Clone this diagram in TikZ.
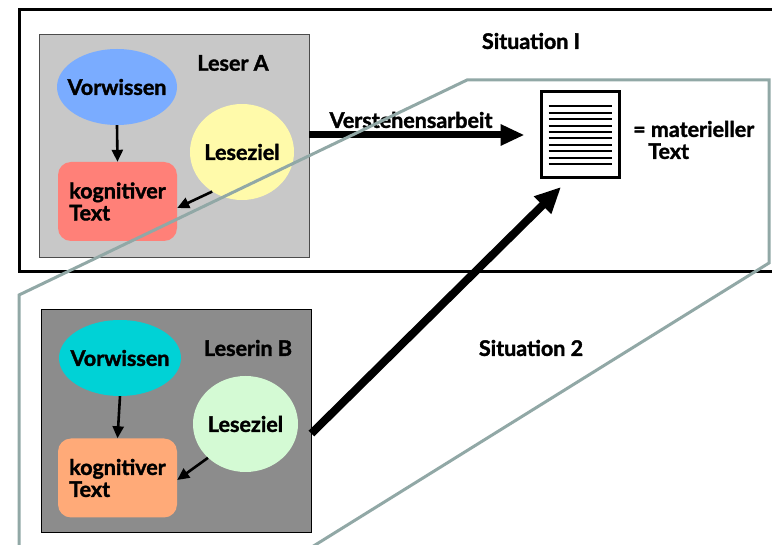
\documentclass[tikz,border=0pt]{standalone}
\usepackage{fontspec}
\setmainfont{Lato}[BoldFeatures={FakeBold=1.6}]
\usetikzlibrary{shapes.geometric,arrows.meta,calc}
\definecolor{boxAc}{RGB}{200,200,200}
\definecolor{boxBc}{RGB}{140,140,140}
\definecolor{vorAc}{RGB}{122,172,255}
\definecolor{lesAc}{RGB}{255,250,170}
\definecolor{kogAc}{RGB}{255,128,120}
\definecolor{vorBc}{RGB}{0,210,214}
\definecolor{lesBc}{RGB}{212,250,212}
\definecolor{kogBc}{RGB}{255,170,120}
\definecolor{framec}{RGB}{145,168,166}
\tikzset{
  lbl/.style={font=\fontsize{21.5}{22}\selectfont\bfseries, inner sep=0pt},
  readerbox/.style={draw, line width=0.8pt, minimum width=270pt, minimum height=223pt, inner sep=0pt},
  ell/.style={ellipse, inner sep=0pt, label={[lbl]center:#1}},
  kog/.style={rectangle, rounded corners=13pt, minimum width=119pt, minimum height=79pt, inner sep=0pt, align=left, lbl},
  smallarrow/.style={line width=2.6pt, -{Triangle[length=12pt,width=11pt]}},
  bigarrowA/.style={line width=7pt, -{Triangle[length=24pt,width=20pt]}},
  bigarrowB/.style={line width=8pt, -{Triangle[length=26pt,width=23pt]}},
}
\begin{document}
\begin{tikzpicture}[x=1pt,y=-1pt]
\useasboundingbox (0,0) rectangle (772,545);
\fill[white] (0,0) rectangle (772,545);
% Situation 1 frame
\draw[line width=3pt] (19,10) rectangle (800,272);
% Reader A
\node[readerbox, draw=black!70, fill=boxAc] (boxA) at (174,145.5) {};
\node[ell=Vorwissen, fill=vorAc, minimum width=120pt, minimum height=76pt] (vA) at (117,87) {};
\node[ell=Leseziel, fill=lesAc, minimum width=104pt, minimum height=96pt] (lA) at (242,152) {};
\node[kog, fill=kogAc] (kA) at (117.5,201.5) {kognitiver\\Text};
\node[lbl] (leserA) at (233,63) {Leser A};
\draw[smallarrow] (vA.south) -- (kA.north);
\draw[smallarrow] (lA.233) -- ([yshift=-6.5pt]kA.east);
% Reader B
\node[readerbox, draw=black, fill=boxBc] (boxB) at (176,420.5) {};
\node[ell=Vorwissen, fill=vorBc, minimum width=122pt, minimum height=76pt] (vB) at (120,358) {};
\node[ell=Leseziel, fill=lesBc, minimum width=105pt, minimum height=96pt] (lB) at (245.5,424) {};
\node[kog, fill=kogBc] (kB) at (117.5,478) {kognitiver\\Text};
\node[lbl] (leserB) at (248,348) {Leserin B};
\draw[smallarrow] (vB.south) -- (kB.north);
\draw[smallarrow] (lB.222) -- ([yshift=-2pt]kB.east);
% document
\node[draw, line width=3pt, fill=white, minimum width=78pt, minimum height=86pt, inner sep=0pt] (doc) at (580,135) {};
\foreach \i in {0,...,9}
  \draw[line width=2pt] ($(doc.center)+(-31.5,-28.5+6.4*\i)$) -- ++(63,0);
\node[lbl, anchor=west, align=left] (mat) at (633,140) {= materieller\\\hspace*{15pt}Text};
% labels
\node[lbl] (sit1) at (531,41) {Situation I};
\node[lbl] (sit2) at (531,348) {Situation 2};
\node[lbl] (verst) at (411,120) {Verstehensarbeit};
% arrows
\draw[bigarrowA] (boxA.east |- doc.west) -- ([xshift=-15pt]doc.west);
\coordinate (tipB) at (561,187);
\draw[bigarrowB] ([yshift=-13pt]boxB.east) -- (tipB);
% Situation 2 frame
\draw[framec, line width=3pt, line join=miter] (19,560) -- (19,295) -- (467,80) -- (769,80) -- (769,263) -- (291,560);
\end{tikzpicture}
\end{document}
